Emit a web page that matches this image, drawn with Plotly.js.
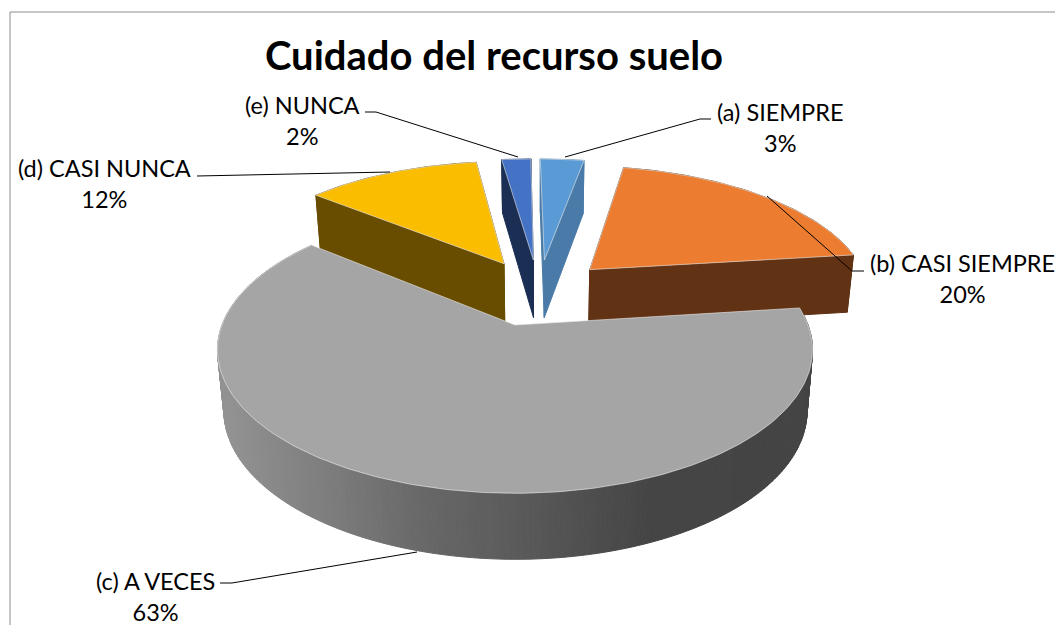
<!DOCTYPE html>
<html><head><meta charset="utf-8">
<script src="https://cdn.plot.ly/plotly-3.0.1.min.js"></script>
<style>html,body{margin:0;padding:0;background:#fff}#chart{width:1055px;height:625px}</style>
</head><body><div id="chart"></div>
<script>
// ---- data ----
const chartTitle = 'Cuidado del recurso suelo';
const categories = ['(a) SIEMPRE', '(b) CASI SIEMPRE', '(c) A VECES', '(d) CASI NUNCA', '(e) NUNCA'];
const values = [3, 20, 63, 12, 2];
const topColors = ['#5B9BD5', '#EC7C30', '#A5A5A5', '#FBBD00', '#4472C4'];
const sideColors = ['#4A7BA8', '#613214', null, '#684D00', '#1B2E53'];

// ---- label placement (page pixels) ----
const labelX = [780, 962, 155, 104, 302];
const labelY = [127, 278, 596, 183, 120];
const leaderX = [[565, 700, 711], [767, 852, 864], [417, 232, 220], [390, 197], [518, 376, 365]];
const leaderY = [[157, 119, 119], [196, 271, 271], [552, 583, 583], [172, 176], [157, 112, 112]];

// ---- 3-D projection of the pie ----
const CX = 515, CY = 325, RX = 293, RY = 139, PERSP = 0.174, DEPTH = 60, PULL = 0.26, SHIFT = 0.012;
const Z_SHRINK = 0.98, Z_CENTER = 540;
const total = values.reduce((a, b) => a + b, 0);
const dirOf = t => [Math.sin(t), -Math.cos(t)];
function project(wx, wy, z) {
  const s = 1 / (1 - PERSP * wy);
  let x = CX + RX * wx * s;
  const y = CY + RY * wy * s + z * DEPTH * Math.sqrt(s);
  if (z) x = Z_CENTER + (x - Z_CENTER) * Z_SHRINK;
  return [x, y];
}
let acc = 0;
const slices = values.map((v, i) => {
  const a0 = acc / total * 2 * Math.PI; acc += v;
  const a1 = acc / total * 2 * Math.PI;
  return {i, a0, a1, mid: (a0 + a1) / 2};
});
const biggest = slices.reduce((a, b) => values[b.i] > values[a.i] ? b : a);
const d0 = dirOf(biggest.mid);
slices.forEach(s => {
  const d = dirOf(s.mid);
  s.ax = (d[0] - d0[0]) * PULL + (s === biggest ? 0 : SHIFT);
  s.ay = (d[1] - d0[1]) * PULL;
});
const rimPoint = (s, t, z) => { const d = dirOf(t); return project(s.ax + d[0], s.ay + d[1], z); };
function arc(s, t0, t1, z) {
  const n = Math.max(2, Math.ceil(Math.abs(t1 - t0) / (Math.PI / 180)));
  const out = [];
  for (let k = 0; k <= n; k++) out.push(rimPoint(s, t0 + (t1 - t0) * k / n, z));
  return out;
}
function poly(pts, fill, line, w) {
  return {
    type: 'scatter', mode: 'lines', fill: 'toself', fillcolor: fill,
    x: pts.map(p => p[0]).concat([pts[0][0]]), y: pts.map(p => p[1]).concat([pts[0][1]]),
    line: {color: line || fill, width: w === undefined ? 1 : w},
    hoverinfo: 'skip', showlegend: false
  };
}
// gradient along the long rim of the big slice
const gradX = [225, 330, 420, 500, 650, 815];
const gradV = [146, 124, 104, 93, 69, 68];
function shade(x) {
  let k = 0;
  while (k < gradX.length - 2 && x > gradX[k + 1]) k++;
  const f = Math.min(1, Math.max(0, (x - gradX[k]) / (gradX[k + 1] - gradX[k])));
  const v = Math.round(gradV[k] + (gradV[k + 1] - gradV[k]) * f);
  return `rgb(${v},${v},${v})`;
}
const traces = [];
const order = slices.slice().sort((a, b) => Math.cos(b.mid) - Math.cos(a.mid));
order.forEach(s => {
  const top = topColors[s.i], side = sideColors[s.i];
  const apexT = project(s.ax, s.ay, 0), apexB = project(s.ax, s.ay, 1);
  if (side) {
    [s.a0, s.a1].forEach(t => traces.push(poly([apexT, rimPoint(s, t, 0), rimPoint(s, t, 1), apexB], side)));
    traces.push(poly(arc(s, s.a0, s.a1, 0).concat(arc(s, s.a1, s.a0, 1)), side));
  } else {
    const step = Math.PI / 180;
    for (let t = s.a0; t < s.a1; t += step) {
      const e = Math.min(s.a1, t + step);
      const pts = [rimPoint(s, t, 0), rimPoint(s, e, 0), rimPoint(s, e, 1), rimPoint(s, t, 1)];
      traces.push(poly(pts, shade(rimPoint(s, (t + e) / 2, 0)[0])));
    }
  }
  traces.push(poly([apexT].concat(arc(s, s.a0, s.a1, 0)), top, 'rgba(235,235,235,0.6)', 1));
});
leaderX.forEach((xs, i) => traces.push({
  type: 'scatter', mode: 'lines', x: xs, y: leaderY[i],
  line: {color: '#000', width: 1}, hoverinfo: 'skip', showlegend: false
}));
const annotations = categories.map((c, i) => ({
  x: labelX[i], y: labelY[i], xref: 'x', yref: 'y', xanchor: 'center', yanchor: 'middle',
  text: c + '<br>' + values[i] + '%', showarrow: false, align: 'center',
  font: {family: 'Lato, sans-serif', size: 23.5, color: '#000'}
}));
const layout = {
  width: 1055, height: 625, autosize: false,
  margin: {l: 0, r: 0, t: 0, b: 0},
  paper_bgcolor: '#fff', plot_bgcolor: '#fff',
  title: {text: '<b>' + chartTitle + '</b>', x: 494 / 1055, xanchor: 'center', y: 1 - 56 / 625, yanchor: 'middle',
          font: {family: 'Lato, sans-serif', size: 40, color: '#000'}},
  xaxis: {visible: false, range: [0, 1055], fixedrange: true},
  yaxis: {visible: false, range: [625, 0], fixedrange: true},
  showlegend: false,
  annotations,
  shapes: [{type: 'path', path: 'M 10 625 L 10 12 L 1055 12', xref: 'x', yref: 'y',
            line: {color: '#8c8c8c', width: 1}, layer: 'below'}]
};
Plotly.newPlot('chart', traces, layout, {displayModeBar: false, staticPlot: true});
</script></body></html>
